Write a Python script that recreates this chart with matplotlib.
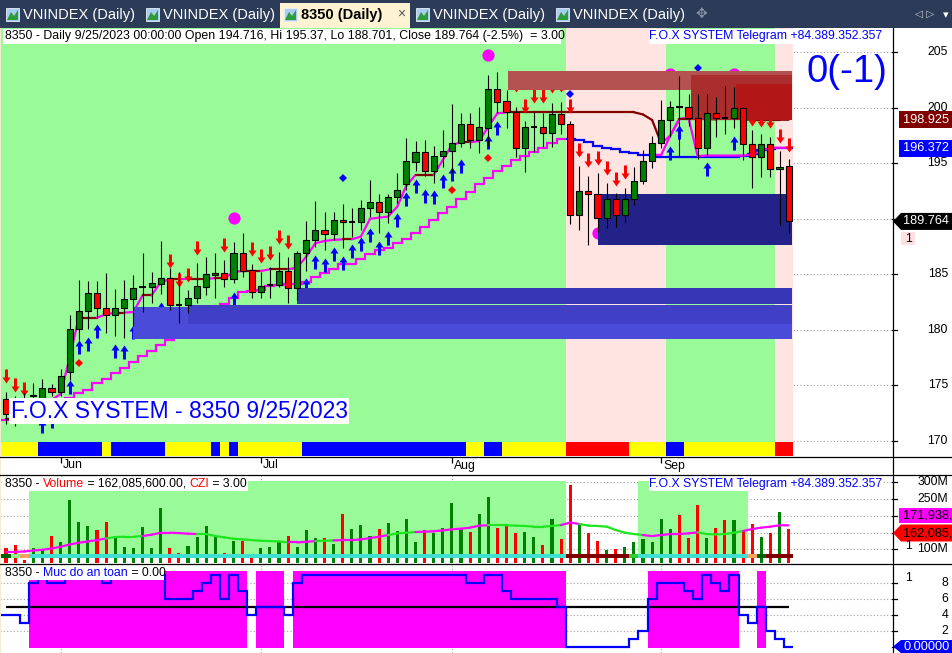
#!/usr/bin/env python3
"""
AmiBroker-style daily chart of 8350 with the F.O.X SYSTEM overlays:
candles, trailing lines, signal arrows, zone boxes, volume panel and
the "Muc do an toan" safety panel.
"""

import matplotlib
matplotlib.use("Agg")
import matplotlib.pyplot as plt
import numpy as np
from matplotlib.collections import LineCollection
from matplotlib.patches import Polygon, Rectangle
from matplotlib.path import Path

plt.rcParams['font.family'] = ['Liberation Sans', 'DejaVu Sans']

# ---------------- data (one entry per trading day, 5/24/2023 .. 9/25/2023) ----------------
opens = [173.8, 173.0, 173.3, 174.0, 173.9, 174.8, 174.4, 176.2, 180.1, 181.7,
         183.3, 182.0, 181.3, 182.0, 182.8, 183.8, 183.9, 184.1, 184.7, 182.25,
         182.2, 182.9, 183.9, 184.9, 185.1, 184.6, 186.9, 185.4, 183.4, 184.0,
         184.0, 185.3, 183.8, 186.9, 188.1, 189.0, 188.6, 189.9, 189.7, 189.7,
         191.0, 191.5, 190.6, 192.0, 193.1, 195.1, 196.0, 194.3, 195.7, 196.1,
         196.8, 198.5, 197.1, 198.2, 201.7, 200.6, 199.6, 196.4, 198.3, 198.3,
         197.7, 199.4, 198.5, 190.3, 192.5, 192.2, 190.1, 191.8, 190.3, 191.8,
         193.4, 195.2, 196.8, 198.9, 200.1, 200.1, 199.1, 196.4, 199.5, 199.1,
         199.1, 200.0, 196.7, 195.6, 196.7, 194.5, 194.716]
highs = [174.4, 174.0, 174.3, 175.2, 175.6, 175.1, 176.5, 181.3, 184.5, 184.4,
         184.4, 185.1, 183.7, 184.5, 184.9, 186.9, 185.2, 188.0, 185.6, 185.2,
         183.6, 186.0, 186.6, 186.9, 186.3, 187.9, 188.7, 185.9, 185.2, 185.7,
         187.0, 186.6, 187.1, 189.8, 191.6, 190.6, 190.6, 191.3, 191.0, 191.7,
         193.5, 192.2, 192.2, 194.1, 197.3, 197.0, 197.1, 196.6, 198.0, 200.3,
         199.5, 199.5, 200.1, 203.0, 203.2, 201.6, 200.1, 198.8, 199.6, 199.5,
         200.4, 200.5, 198.8, 194.8, 193.9, 194.1, 193.2, 192.3, 192.8, 194.7,
         196.2, 197.5, 200.7, 200.6, 202.9, 201.2, 201.2, 201.2, 201.0, 202.0,
         201.9, 200.1, 198.0, 197.6, 197.4, 196.1, 195.37]
lows = [171.5, 171.3, 171.6, 173.4, 173.2, 174.0, 174.0, 175.5, 179.1, 180.1,
        181.1, 179.7, 179.4, 179.3, 180.3, 181.6, 182.4, 183.2, 181.8, 180.6,
        181.5, 182.4, 183.1, 182.9, 183.9, 184.2, 184.8, 182.9, 182.9, 182.9,
        183.9, 182.4, 182.7, 185.3, 187.5, 187.2, 188.1, 187.4, 188.4, 189.0,
        190.2, 188.7, 189.6, 191.4, 192.6, 194.3, 193.9, 193.2, 194.7, 194.1,
        196.5, 196.4, 195.9, 196.6, 199.5, 198.2, 195.6, 194.2, 196.0, 196.5,
        196.5, 197.6, 189.5, 189.0, 187.6, 188.8, 189.2, 189.3, 189.7, 191.2,
        193.1, 194.6, 196.4, 197.4, 195.7, 198.4, 195.4, 195.6, 197.4, 197.6,
        198.2, 195.3, 192.8, 193.8, 193.8, 189.4, 188.701]
closes = [172.4, 172.5, 173.0, 174.1, 174.8, 174.4, 175.8, 180.1, 181.7, 183.3,
          182.0, 181.3, 182.0, 182.8, 183.8, 183.85, 184.2, 184.7, 182.2, 182.2,
          182.9, 183.95, 185.0, 185.1, 184.6, 186.9, 185.3, 183.4, 183.95, 184.0,
          185.3, 183.8, 186.9, 188.1, 189.0, 188.6, 189.9, 189.7, 189.7, 191.0,
          191.5, 190.6, 192.0, 192.6, 195.2, 196.0, 194.3, 195.7, 196.1, 196.8,
          198.5, 197.1, 198.3, 201.7, 200.5, 199.6, 196.4, 198.3, 198.3, 197.7,
          199.4, 198.5, 190.3, 192.5, 192.2, 190.1, 191.8, 190.3, 191.8, 193.4,
          195.2, 196.8, 198.9, 200.1, 200.05, 199.1, 196.4, 199.5, 199.1, 199.05,
          200.0, 196.7, 195.6, 196.7, 194.5, 194.7, 189.764]

# volume in millions of shares and its moving average
volume = [104, 113, 70, 104, 101, 140, 121, 247, 181, 170,
          158, 181, 138, 107, 104, 166, 104, 224, 104, 90,
          110, 138, 170, 140, 89, 126, 126, 82, 104, 108,
          121, 140, 108, 158, 133, 135, 116, 206, 161, 173,
          140, 161, 178, 155, 191, 121, 158, 150, 163, 238,
          161, 151, 206, 255, 165, 173, 150, 153, 138, 113,
          191, 131, 292, 176, 150, 125, 98, 101, 107, 121,
          131, 121, 191, 161, 203, 133, 232, 135, 165, 188,
          188, 155, 175, 137, 149, 212, 162.0856]
vol_ma = [93, 93, 94, 97, 99, 103, 108, 115, 120, 124,
          128, 133, 137, 138, 138, 140, 144, 150, 150, 149,
          147, 146, 146, 140, 136, 132, 130, 128, 126, 125,
          124, 121, 121, 123, 125, 126, 127, 128, 128, 130,
          134, 138, 143, 148, 150, 152, 153, 154, 157, 160,
          162, 165, 171, 172, 172, 172, 171, 170, 168, 168,
          170, 173, 180, 176, 171, 170, 168, 158, 150, 146,
          143, 140, 143, 146, 146, 148, 151, 146, 145, 146,
          150, 155, 161, 165, 168, 172, 171.938]
vol_ma_state = ('m' * 12 + 'g' * 4 + 'm' * 6 + 'g' * 10 + 'm' * 3 + 'g' * 2 + 'm' * 6 +
                'g' * 3 + 'm' * 8 + 'g' * 8 + 'm' * 2 + 'g' * 7 + 'm' * 6 + 'g' * 5 + 'm' * 5)

# "Muc do an toan" (safety level)
safety = [4, 4, 3, 8, 9, 8, 8, 9, 9, 9,
          9, 8, 9, 9, 9, 9, 9, 9, 6, 6,
          6, 7, 8, 9, 6, 9, 7, 4, 5, 5,
          5, 4, 8, 9, 9, 9, 9, 9, 9, 9,
          9, 9, 9, 9, 9, 9, 9, 9, 9, 9,
          9, 8, 8, 9, 9, 7, 6, 6, 6, 6,
          6, 5, 0, 0, 0, 0, 0, 0, 0, 1,
          2, 6, 8, 8, 8, 7, 6, 9, 8, 7,
          9, 4, 3, 5, 2, 1, 0]

# upper line (magenta when rising, dark red when flat) and lower trailing stop
upper_line = [172.0, 172.0, 172.3, 172.8, 173.3, 173.7, 174.2, 177.5, 181.1, 181.1,
              181.1, 181.4, 181.55, 181.55, 181.6, 183.1, 183.1, 184.3, 184.55, 184.55,
              184.6, 184.6, 184.6, 184.65, 184.65, 185.2, 185.3, 185.3, 185.3, 185.45,
              185.45, 185.45, 185.6, 186.6, 187.8, 188.0, 188.1, 188.15, 188.15, 188.4,
              190.0, 190.1, 190.2, 191.1, 193.0, 193.95, 193.95, 193.95, 195.3, 196.65,
              196.9, 196.9, 197.0, 198.3, 199.5, 199.6, 199.6, 199.6, 199.6, 199.6,
              199.6, 199.6, 199.6, 199.6, 199.6, 199.6, 199.6, 199.6, 199.6, 199.6,
              199.4, 198.9, 196.8, 197.5, 199.0, 199.0, 199.0, 199.0, 198.95, 198.95,
              198.95, 198.95, 198.93, 198.93, 198.93, 198.93, 198.925]
trail_line = [171.9, 171.9, 172.0, 172.3, 172.7, 173.1, 173.5, 173.9, 174.3, 174.6,
              175.2, 175.6, 176.1, 176.6, 177.1, 177.6, 178.1, 178.6, 179.1, 179.4,
              179.9, 180.5, 181.1, 181.8, 182.3, 182.9, 183.4, 183.5, 183.6, 183.95,
              184.0, 184.1, 184.15, 184.3, 184.8, 185.15, 185.45, 185.9, 185.95, 186.4,
              186.8, 187.2, 187.4, 187.85, 188.2, 188.75, 189.3, 189.9, 190.5, 191.1,
              191.8, 192.4, 193.1, 193.7, 194.3, 194.8, 195.3, 195.7, 196.05, 196.4,
              196.8, 197.2, 197.2, 197.1, 196.9, 196.6, 196.4, 196.3, 196.0, 195.95,
              195.75, 195.75, 195.6, 195.6, 195.6, 195.6, 195.6, 195.6, 195.6, 195.6,
              195.6, 195.7, 195.8, 196.2, 196.3, 196.4, 196.372]
trail_blue_from = 62
fast_start = 71
fast_line = [195.75, 195.75, 197.5, 199.0, 199.1, 195.65, 195.7, 195.7, 195.7, 195.7,
             195.7, 195.8, 196.1, 196.4, 196.4, 196.4]

# signals: bar index and tip price
sell_bars = [0, 1, 2, 18, 19, 20, 21, 24, 27, 28, 29, 30, 31, 56, 57, 58, 59, 60, 61,
             62, 63, 64, 65, 66, 67, 68, 82, 83, 84, 85, 86]
sell_tip = [175.2, 174.4, 174.0, 185.6, 183.85, 184.3, 186.7, 187.0, 186.65, 186.0,
            186.3, 187.7, 187.3, 201.4, 199.55, 200.4, 200.4, 201.3, 201.4, 199.5,
            195.6, 194.7, 194.85, 193.95, 192.95, 193.6, 198.4, 198.25, 198.15, 196.8, 196.0]
buy_bars = [4, 5, 7, 8, 9, 10, 12, 13, 14, 17, 25, 33, 34, 35, 36, 37, 38, 39, 40,
            41, 42, 43, 44, 45, 46, 47, 48, 49, 50, 53, 54, 73, 74, 77, 80]
buy_tip = [172.0, 172.4, 175.45, 179.1, 179.35, 180.5, 178.7, 178.6, 180.4, 182.5,
           183.4, 184.65, 186.75, 186.5, 187.5, 186.65, 187.7, 188.35, 189.2, 188.0,
           188.9, 190.5, 192.4, 193.6, 192.7, 192.6, 194.0, 194.7, 195.4, 197.55,
           198.8, 196.55, 198.45, 195.1, 197.45]
blue_dot_bars = [37, 62, 76]
blue_dot_price = [193.7, 201.2, 203.55]
red_dot_bars = [8, 49, 53]
red_dot_price = [177.0, 192.6, 195.5]
pink_dot_bars = [25, 53, 65, 73, 80]
pink_dot_price = [190.05, 204.8, 188.7, 203.05, 203.05]

# zone boxes: start bar, end bar, low, high, colour
boxes = [
    (14, 86.35, 179.15, 182.05, '#4b4bd9'),
    (20, 86.35, 180.5, 182.2, '#4040c6'),
    (32, 86.35, 182.35, 183.8, '#3636b6'),
    (65, 86.35, 187.6, 192.25, '#222288'),
    (55.2, 86.35, 201.6, 203.3, '#b45252'),
    (75.3, 86.35, 198.9, 202.95, '#ab2e2e'),
    (80.2, 86.35, 198.9, 202.15, '#b21616'),
]

# per-bar background / ribbon codes
main_zone = 'g' * 62 + 'p' * 11 + 'g' * 12 + 'p' * 2
ribbon = ('y' * 4 + 'b' * 7 + 'y' + 'b' * 6 + 'y' * 5 + 'b' + 'y' + 'b' + 'y' * 7 + 'b' * 18 +
          'y' * 2 + 'b' * 2 + 'y' * 7 + 'r' * 7 + 'y' * 4 + 'b' * 2 + 'y' * 10 + 'r' * 2)
vol_zone = '.' * 3 + 'g' * 59 + '.' * 8 + 'g' * 12 + '.' * 5
vol_strip = 'DLO' + 'c' * 59 + 'M' * 7 + 'G' + 'c' * 12 + 'ODMMM'

month_labels = ['Jun', 'Jul', 'Aug', 'Sep']
month_pos = [6, 28, 49, 72]
tabs = ['VNINDEX (Daily)', 'VNINDEX (Daily)', '8350 (Daily)', 'VNINDEX (Daily)', 'VNINDEX (Daily)']

# ---------------- layout (pixels) ----------------
W, H = 952, 653
AXR = 892                      # right edge of the chart panels
X0, DX = 6.0, 9.1              # first bar centre, bar spacing
XLIM = (-X0 / DX, (AXR - X0) / DX)
MAIN_YLIM = (168.63, 207.19)
VOL_YLIM = (59.8, 324.7)
SAFE_YLIM = (-0.75, 10.5)

GREEN_BG = '#98fb98'
PINK_BG = '#ffe4e1'
MAGENTA = '#ff00ff'
MAROON = '#800000'
BLUE = '#0000ff'
DOT = dict(color='#a0a0a0', ls=(0, (1, 2)), lw=0.8, zorder=0.5)
FS = 8.8

n = len(closes)
idx = np.arange(n)
o, h, l, c = (np.array(v, dtype=float) for v in (opens, highs, lows, closes))

fig = plt.figure(figsize=(W / 100, H / 100), dpi=100)
fig.patch.set_facecolor('white')


def panel(top, bottom):
    a = fig.add_axes([0, 1 - bottom / H, AXR / W, (bottom - top) / H])
    a.set_xlim(XLIM)
    a.set_axis_off()
    return a


def draw_runs(a, codes, cmap, y0, y1, z):
    start = 0
    for i in range(1, len(codes) + 1):
        if i == len(codes) or codes[i] != codes[start]:
            col = cmap.get(codes[start])
            if col:
                a.add_patch(Rectangle((start - 0.5, y0), i - start, y1 - y0,
                                      fc=col, ec='none', zorder=z))
            start = i


def colored_line(a, xs, ys, cols, lw, z):
    pts = np.column_stack([xs, ys])
    segs = np.stack([pts[:-1], pts[1:]], axis=1)
    a.add_collection(LineCollection(segs, colors=cols, linewidths=lw, zorder=z,
                                    capstyle='round'))


# ---------------- main price panel ----------------
ax = panel(28, 456)
ax.set_ylim(MAIN_YLIM)
for v in range(170, 206, 5):
    ax.axhline(v, **DOT)
draw_runs(ax, main_zone, {'g': GREEN_BG, 'p': PINK_BG}, MAIN_YLIM[0], MAIN_YLIM[1], 1)
draw_runs(ax, ribbon, {'y': '#ffff00', 'b': BLUE, 'r': '#ff0000'}, MAIN_YLIM[0], 169.9, 1.5)

ax.stairs(trail_line[:trail_blue_from], np.arange(trail_blue_from + 1) - 0.5,
          baseline=None, color=MAGENTA, lw=1.6, zorder=2)
ax.stairs(trail_line[trail_blue_from:], np.arange(trail_blue_from, n + 1) - 0.5,
          baseline=None, color=BLUE, lw=1.6, zorder=2)
up_cols = [MAGENTA if upper_line[i + 1] > upper_line[i] + 0.02 else MAROON for i in range(n - 1)]
colored_line(ax, idx, upper_line, up_cols, 1.6, 2.2)
ax.plot(idx[fast_start:], fast_line, color=MAGENTA, lw=1.6, zorder=2.1)

# arrow markers (14 px tall)
up_path = Path([(0, 7), (4, 1), (1.5, 1), (1.5, -7), (-1.5, -7), (-1.5, 1), (-4, 1), (0, 7)],
               [Path.MOVETO] + [Path.LINETO] * 6 + [Path.CLOSEPOLY])
down_path = Path(up_path.vertices * [1, -1], up_path.codes)
aoff = 7 / (428 / (MAIN_YLIM[1] - MAIN_YLIM[0]))
ax.plot(sell_bars, np.array(sell_tip) + aoff, ls='none', marker=down_path, ms=10.1,
        color='#ff0000', mew=0, zorder=3)
ax.plot(buy_bars, np.array(buy_tip) - aoff, ls='none', marker=up_path, ms=10.1,
        color=BLUE, mew=0, zorder=3)
ax.plot(blue_dot_bars, blue_dot_price, ls='none', marker='D', ms=4.3, color=BLUE, mew=0, zorder=3)
ax.plot(red_dot_bars, red_dot_price, ls='none', marker='D', ms=4.3, color='#ff0000', mew=0, zorder=3)
ax.plot(pink_dot_bars, pink_dot_price, ls='none', marker='o', ms=8.8, color=MAGENTA, mew=0, zorder=2.5)

for x0, x1, lo, hi, col in boxes:
    ax.add_patch(Rectangle((x0, lo), x1 - x0, hi - lo, fc=col, ec='none', zorder=4))

# candles
ax.vlines(idx, l, h, color='black', lw=0.8, zorder=5)
up = c > o + 0.08
dn = c < o - 0.08
dj = ~(up | dn)
ax.bar(idx[up], (c - o)[up], bottom=o[up], width=0.66, color='#008000',
       edgecolor='black', lw=0.8, zorder=6)
ax.bar(idx[dn], (o - c)[dn], bottom=c[dn], width=0.66, color='#ff0000',
       edgecolor='black', lw=0.8, zorder=6)
ax.hlines(c[dj], idx[dj] - 0.36, idx[dj] + 0.36, color='black', lw=1.5, zorder=6)

# ---------------- date strip ----------------
axd = panel(457, 474)
axd.set_ylim(0, 1)
axd.vlines(month_pos, 0.62, 1.0, color='black', lw=0.9)
for m, lab in zip(month_pos, month_labels):
    axd.text(m + 0.25, 0.5, lab, fontsize=FS, va='center', ha='left')

# ---------------- volume panel ----------------
axv = panel(474, 563)
axv.set_ylim(VOL_YLIM)
for v in (100, 150, 200, 250, 300):
    axv.axhline(v, **DOT)
for m in month_pos:
    axv.axvline(m, **DOT)
draw_runs(axv, vol_zone, {'g': GREEN_BG}, 73.8, 303.9, 1)
vcols = ['#ff0000' if c[i] < o[i] else '#008000' for i in range(n)]
axv.bar(idx, volume, width=0.33, color=vcols, lw=0, zorder=2)
draw_runs(axv, vol_strip, {'c': '#40e0d0', 'M': MAROON, 'D': '#006400', 'L': '#90ee90',
                           'O': '#f4a460', 'G': '#32cd32'}, 73.8, 85.7, 3)
ma_cols = [MAGENTA if vol_ma_state[i + 1] == 'm' else '#1ee61e' for i in range(n - 1)]
colored_line(axv, idx, vol_ma, ma_cols, 1.6, 4)

# ---------------- safety panel ----------------
axi = panel(563, 653)
axi.set_ylim(SAFE_YLIM)
for v in (2, 4, 6, 8):
    axi.axhline(v, **DOT)
for m in month_pos:
    axi.axvline(m, **DOT)
draw_runs(axi, ['m' if s >= 5 else '.' for s in safety], {'m': MAGENTA}, -0.125, 9.5, 1)
axi.hlines(5, 0, n - 1, color='black', lw=1.6, zorder=3)
axi.stairs(safety, np.arange(n + 1) - 0.5, baseline=None, color=BLUE, lw=1.6, zorder=4)

# ---------------- overlay: tabs, frame, labels ----------------
ov = fig.add_axes([0, 0, 1, 1], zorder=50)
ov.set_xlim(0, W)
ov.set_ylim(H, 0)
ov.set_axis_off()
rend = fig.canvas.get_renderer()


def ypx(a, v):
    return H - a.transData.transform((0, v))[1]


def text_width(s, size):
    t1 = ov.text(0, 0, s + '|', fontsize=size)
    t2 = ov.text(0, 0, '|', fontsize=size)
    w = t1.get_window_extent(rend).width - t2.get_window_extent(rend).width
    t1.remove()
    t2.remove()
    return w


def text_parts(x, y, parts, size=FS):
    for s, col in parts:
        ov.text(x, y, s, color=col, fontsize=size, va='center', ha='left', zorder=8)
        x += text_width(s, size)


def white_box(x0, y0, x1, y1):
    ov.add_patch(Rectangle((x0, y0), x1 - x0, y1 - y0, fc='white', ec='none', zorder=7))


def tag(y, s, fc, tc, arrow=False, half=8.5):
    if arrow:
        pts = [(893, y), (901, y - half), (W, y - half), (W, y + half), (901, y + half)]
    else:
        pts = [(899, y - half), (W, y - half), (W, y + half), (899, y + half)]
    ov.add_patch(Polygon(pts, closed=True, fc=fc, ec='none', zorder=9))
    ov.text(903, y, s, color=tc, fontsize=FS + 0.4, va='center', ha='left', zorder=10,
            clip_on=True)


# tab bar
ov.add_patch(Rectangle((0, 0), W, 28, fc='#2b3b58', ec='none', zorder=1))
ov.add_patch(Rectangle((280, 3), 130, 25, fc='#fdf3d3', ec='none', zorder=2))
for ix, name in zip([6, 146, 284, 416, 556], tabs):
    ov.add_patch(Rectangle((ix, 7.5), 13, 13, fc='#a9cdf0', ec='#e8eef8', lw=0.6, zorder=3))
    ov.add_patch(Polygon([(ix + 1, 20), (ix + 5, 12), (ix + 8, 16), (ix + 12, 10), (ix + 12, 20)],
                         fc='#2e9b3a', ec='none', zorder=4))
    active = name.startswith('8350')
    ov.text(ix + 17, 14.5, name, fontsize=10.5, va='center', ha='left', zorder=5,
            color='black' if active else 'white', weight='bold' if active else 'normal')
ov.text(401, 14, '×', fontsize=10, va='center', ha='center', color='#555555', zorder=5)
ov.text(701, 14, '✥', fontsize=10, va='center', ha='center', color='#8792a8', zorder=5,
        family=['DejaVu Sans'])
ov.text(925, 14, '◁ ▷', fontsize=7.5, va='center', ha='center', color='#c8ccd6', zorder=5,
        family=['DejaVu Sans'])
ov.text(946, 15, '▾', fontsize=8, va='center', ha='center', color='white', zorder=5,
        family=['DejaVu Sans'])

# frame lines
ov.add_patch(Rectangle((0, 28), 1.3, H - 28, fc='#f3ecd0', ec='none', zorder=6))
ov.plot([AXR + 0.5, AXR + 0.5], [28, H], color='black', lw=0.9, zorder=6)
for yy in (456.5, 474.5, 563.5):
    ov.plot([0, W], [yy, yy], color='black', lw=0.9, zorder=6)

# right-hand scales (labels sitting under a value tag are not shown)
for a, ticks, hidden, fmt in ((ax, range(170, 206, 5), (190,), '{}'),
                              (axv, (100, 150, 200, 250, 300), (150, 200), '{}M'),
                              (axi, (0, 2, 4, 6, 8), (0,), '{}')):
    for v in ticks:
        y = ypx(a, v)
        ov.plot([AXR, AXR + 5], [y, y], color='black', lw=0.9, zorder=6)
        if v not in hidden:
            ov.text(948, y, fmt.format(v), fontsize=FS, va='center', ha='right', zorder=6)

# last-value tags
tag(ypx(ax, upper_line[-1]), f'{upper_line[-1]:.3f}', MAROON, 'white')
tag(ypx(ax, trail_line[-1]), f'{trail_line[-1]:.3f}', BLUE, 'white')
tag(ypx(ax, closes[-1]), f'{closes[-1]:.3f}', 'black', 'white', arrow=True)
ov.add_patch(Rectangle((901, 232), 14, 13, fc='#ffe0e0', ec='none', zorder=9))
ov.text(908, 238.5, '1', fontsize=FS, va='center', ha='center', zorder=10)
tag(515, f'{vol_ma[-1] * 1e6:,.0f}', MAGENTA, 'black', half=7.5)
tag(533, f'{volume[-1] * 1e6:,.0f}', '#ff0000', 'black', arrow=True, half=8.5)
ov.text(908, 546, '1', fontsize=FS, va='center', ha='center', zorder=10)
ov.text(908, 578, '1', fontsize=FS, va='center', ha='center', zorder=10)
tag(ypx(axi, safety[-1]) - 0.5, f'{safety[-1]:.5f}', BLUE, 'white', arrow=True, half=6.5)

# panel titles
prev_close = closes[-2]
pct = (closes[-1] / prev_close - 1) * 100
header = (f'8350 - Daily 9/25/2023 00:00:00 Open {opens[-1]:g}, Hi {highs[-1]:g}, '
          f'Lo {lows[-1]:g}, Close {closes[-1]:g} ({pct:.1f}%)  = 3.00')
white_box(3, 29, 561, 43.5)
ov.text(5, 36.5, header, fontsize=8.9, va='center', ha='left', zorder=8)
telegram = 'F.O.X SYSTEM Telegram +84.389.352.357'
white_box(649, 29, 884, 43.5)
ov.text(882, 36.5, telegram, fontsize=FS, va='center', ha='right', color=BLUE, zorder=8)
ov.text(807, 72.5, '0(-1)', fontsize=27.5, va='center', ha='left', color=BLUE, zorder=8)
white_box(9, 398, 349, 423.5)
ov.text(11, 411, 'F.O.X SYSTEM - 8350 9/25/2023', fontsize=16.5, va='center', ha='left',
        color=BLUE, zorder=8)

white_box(3, 477, 248, 491)
text_parts(5, 484, [('8350 - ', 'black'), ('Volume', '#ff0000'),
                    (f' = {volume[-1] * 1e6:,.2f}, ', 'black'), ('CZI', '#ff0000'),
                    (' = 3.00', 'black')])
white_box(649, 478, 884, 491)
ov.text(882, 484.5, telegram, fontsize=FS, va='center', ha='right', color=BLUE, zorder=8)

white_box(3, 566, 164, 580)
text_parts(5, 573, [('8350 - ', 'black'), ('Muc do an toan', BLUE),
                    (f' = {safety[-1]:.2f}', 'black')])

fig.savefig('out.png', dpi=100)
